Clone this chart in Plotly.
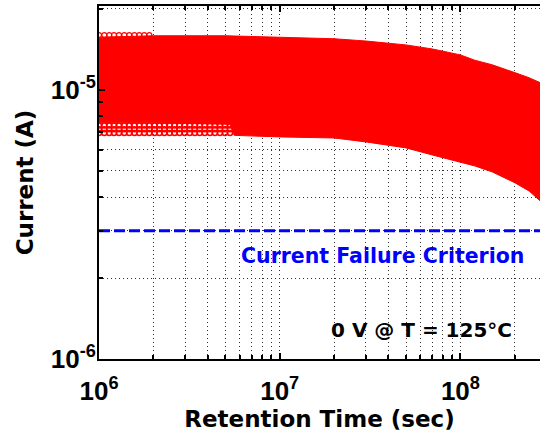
import plotly.graph_objects as go

# Retention time (s) sampled along the upper edge of the red band of curves
time_upper = [1e6, 2e6, 5e6, 1e7, 2e7, 3e7, 5e7, 7e7, 1e8, 1.2e8, 1.5e8, 2e8, 2.4e8, 2.8e8]
# Upper envelope of the current curves (A)
current_upper = [1.57e-5, 1.59e-5, 1.59e-5, 1.57e-5, 1.55e-5, 1.52e-5, 1.47e-5,
                 1.42e-5, 1.35e-5, 1.29e-5, 1.24e-5, 1.16e-5, 1.11e-5, 1.06e-5]
# Lower edge of the dense (solid) part of the band
time_lower = [1e6, 2e6, 5.3e6, 5.6e6, 1e7, 2e7, 3e7, 5e7, 7e7, 1e8, 1.2e8, 1.5e8, 2e8, 2.4e8, 2.8e8]
current_lower = [7.55e-6, 7.55e-6, 7.45e-6, 6.78e-6, 6.69e-6, 6.63e-6, 6.41e-6, 6.09e-6,
                 5.73e-6, 5.40e-6, 5.22e-6, 4.96e-6, 4.52e-6, 4.21e-6, 3.84e-6]

# Sparse curves drawn with open circle markers at the lower-left of the band
marker_time = [1.00e6, 1.07e6, 1.14e6, 1.21e6, 1.29e6, 1.38e6, 1.47e6, 1.57e6, 1.67e6,
               1.78e6, 1.90e6, 2.03e6, 2.16e6, 2.30e6, 2.46e6, 2.62e6, 2.79e6, 2.98e6,
               3.18e6, 3.39e6, 3.61e6, 3.85e6, 4.11e6, 4.38e6, 4.67e6, 4.98e6, 5.31e6]
sparse_currents = [7.38e-6, 7.14e-6, 6.92e-6]
# Sparse top curve with markers (upper-left)
top_marker_time = marker_time[:11]
top_marker_current = 1.60e-5

# Failure criterion
criterion_time = [1e6, 2.8e8]
criterion_current = [3e-6, 3e-6]

x_tickvals = [1e6, 1e7, 1e8]
x_ticktext = ["10<sup>6</sup>", "10<sup>7</sup>", "10<sup>8</sup>"]
y_tickvals = [1e-6, 1e-5]
y_ticktext = ["10<sup>-6</sup>", "10<sup>-5</sup>"]

x_minor = [d * 10 ** e for e in (6, 7, 8) for d in range(2, 10)]
y_minor = [d * 10 ** e for e in (-6, -5) for d in range(2, 10)]

RED = "#ff0000"
BLUE = "#0000ff"
TXT = "DejaVu Sans"
TICKF = "Liberation Sans"

fig = go.Figure()
fig.add_trace(go.Scatter(x=time_upper, y=current_upper, mode="lines",
                         line=dict(color=RED, width=1), showlegend=False, hoverinfo="skip"))
fig.add_trace(go.Scatter(x=time_lower, y=current_lower, mode="lines", fill="tonexty",
                         fillcolor=RED, line=dict(color=RED, width=1),
                         showlegend=False, hoverinfo="skip"))
for c in sparse_currents:
    fig.add_trace(go.Scatter(x=marker_time, y=[c] * len(marker_time), mode="markers",
                             marker=dict(symbol="circle-open", size=5, color=RED,
                                         line=dict(width=1.6, color=RED)),
                             showlegend=False, hoverinfo="skip"))
fig.add_trace(go.Scatter(x=top_marker_time, y=[top_marker_current] * len(top_marker_time),
                         mode="markers",
                         marker=dict(symbol="circle-open", size=5, color=RED,
                                     line=dict(width=1.2, color=RED)),
                         showlegend=False, hoverinfo="skip"))
fig.add_trace(go.Scatter(x=criterion_time, y=criterion_current, mode="lines",
                         line=dict(color=BLUE, width=3, dash="11px,4px"),
                         showlegend=False, hoverinfo="skip"))

grid = dict(showgrid=True, gridcolor="#333333", gridwidth=1, griddash="1px,3px")

fig.update_xaxes(type="log", range=[6, 8.4405],
                 tickmode="array", tickvals=x_tickvals, ticktext=x_ticktext,
                 tickfont=dict(family=TICKF, size=26, color="black", weight="bold"),
                 ticklabelstandoff=8,
                 ticks="inside", ticklen=6, tickwidth=2, tickcolor="black",
                 showline=True, linecolor="black", linewidth=2, mirror="ticks",
                 minor=dict(tickmode="array", tickvals=x_minor, ticks="inside",
                            ticklen=4, tickwidth=1.5, tickcolor="black", **grid),
                 title=dict(text="Retention Time (sec)", standoff=5,
                            font=dict(family=TXT, size=23, color="black", weight="bold")),
                 zeroline=False, **grid)
fig.update_yaxes(type="log", range=[-6, -4.688],
                 tickmode="array", tickvals=y_tickvals, ticktext=y_ticktext,
                 tickfont=dict(family=TICKF, size=26, color="black", weight="bold"),
                 ticklabelstandoff=-4,
                 ticks="inside", ticklen=6, tickwidth=2, tickcolor="black",
                 showline=True, linecolor="black", linewidth=2, mirror=False,
                 minor=dict(tickmode="array", tickvals=y_minor, ticks="inside",
                            ticklen=4, tickwidth=1.5, tickcolor="black", **grid),
                 title=dict(text="Current (A)", standoff=11,
                            font=dict(family=TXT, size=23, color="black", weight="bold")),
                 zeroline=False, **grid)

fig.add_annotation(text="Current Failure Criterion", xref="paper", yref="paper",
                   x=0.642, y=0.292, showarrow=False, xanchor="center", yanchor="middle",
                   font=dict(family=TXT, size=20.5, color=BLUE, weight="bold"))
fig.add_annotation(text="0 V @ T = 125°C", xref="paper", yref="paper",
                   x=0.732, y=0.082, showarrow=False, xanchor="center", yanchor="middle",
                   font=dict(family=TXT, size=20, color="black", weight="bold"))

fig.update_layout(width=540, height=437, margin=dict(l=99, r=0, t=6, b=78),
                  paper_bgcolor="white", plot_bgcolor="white")

fig.write_html("out.html", config={"displayModeBar": False},
               post_script="document.body.style.margin='0';")
